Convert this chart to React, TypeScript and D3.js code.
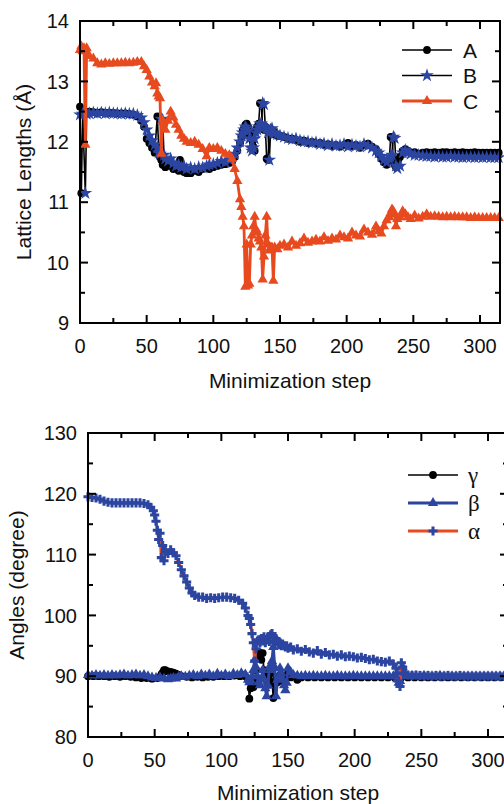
import React from "react";
import * as d3 from "d3";

type Pt = [number, number];

const stepTicks = [0, 50, 100, 150, 200, 250, 300];
const stepMinorTicks = [25, 75, 125, 175, 225, 275];
const latticeTicks = [9, 10, 11, 12, 13, 14];
const latticeMinorTicks = [9.5, 10.5, 11.5, 12.5, 13.5];
const angleTicks = [80, 90, 100, 110, 120, 130];
const angleMinorTicks = [85, 95, 105, 115, 125];

const latticeNames = ["A", "B", "C"];
const angleNames = ["γ", "β", "α"];

const latticeA: Pt[] = [[0,12.58],[1,11.15],[2,12.45],[3,12.48],[5,12.49],[7,12.5],[10,12.49],[13,12.48],[16,12.49],[19,12.48],[22,12.48],[25,12.48],[28,12.47],[31,12.47],[34,12.47],[37,12.46],[40,12.45],[43,12.42],[46,12.35],[48,12.25],[50,12.05],[52,11.98],[54,11.9],[56,11.82],[58,12.42],[59,11.9],[60,11.75],[61,11.7],[62,11.62],[64,11.58],[66,11.65],[68,11.6],[70,11.55],[72,11.62],[74,11.52],[75,11.7],[76,11.55],[78,11.5],[80,11.48],[83,11.48],[86,11.52],[89,11.5],[92,11.55],[95,11.58],[97,11.55],[100,11.58],[103,11.6],[106,11.62],[109,11.63],[112,11.65],[114,11.68],[116,11.75],[118,11.85],[120,11.98],[121,12.08],[122,12.18],[123,12.22],[124,12.28],[125,12.3],[126,12.25],[127,12.1],[128,12.15],[129,12.05],[130,11.92],[131,11.85],[132,12.2],[133,12.25],[134,12.3],[135,12.64],[136,12.62],[137,12.22],[138,12.2],[139,12.25],[140,11.72],[141,11.7],[142,12.18],[143,12.2],[144,12.15],[145,12.18],[146,12.12],[148,12.1],[150,12.1],[153,12.08],[156,12.05],[159,12.05],[162,12.03],[165,12.0],[168,12.02],[171,11.98],[174,12.0],[177,11.97],[180,11.98],[183,11.95],[186,11.96],[189,11.93],[192,11.95],[195,11.92],[198,11.95],[201,11.98],[204,11.93],[207,11.95],[210,11.9],[213,11.95],[216,11.97],[219,11.92],[222,11.88],[224,11.8],[226,11.72],[228,11.66],[230,11.62],[232,11.7],[233,12.08],[234,12.07],[235,11.7],[236,11.62],[237,11.58],[238,11.68],[240,11.75],[242,11.85],[244,11.88],[246,11.85],[248,11.82],[251,11.83],[254,11.8],[257,11.82],[260,11.83],[263,11.82],[266,11.83],[269,11.82],[272,11.83],[275,11.83],[278,11.82],[281,11.83],[284,11.82],[287,11.83],[290,11.82],[293,11.82],[296,11.83],[299,11.82],[302,11.82],[305,11.82],[308,11.82],[311,11.82],[314,11.82]];

const latticeB: Pt[] = [[0,12.45],[2,12.46],[4,11.15],[5,12.46],[7,12.47],[10,12.48],[13,12.47],[16,12.48],[19,12.47],[22,12.48],[25,12.47],[28,12.47],[31,12.46],[34,12.47],[37,12.46],[40,12.46],[43,12.44],[46,12.4],[48,12.32],[50,12.2],[52,12.1],[54,12.02],[56,11.95],[58,11.9],[59,11.82],[60,11.8],[61,12.38],[62,12.36],[63,11.78],[64,11.72],[66,11.68],[68,11.72],[70,11.65],[72,11.6],[74,11.62],[76,11.58],[78,11.6],[80,11.55],[83,11.57],[86,11.55],[89,11.58],[92,11.57],[95,11.6],[97,11.62],[100,11.63],[103,11.65],[106,11.68],[109,11.66],[112,11.7],[114,11.72],[116,11.8],[118,11.9],[120,12.0],[121,12.1],[122,12.15],[123,12.2],[124,12.25],[125,12.22],[126,12.18],[127,12.05],[128,11.9],[129,11.85],[130,11.9],[131,12.05],[132,12.15],[133,12.2],[134,12.25],[135,12.3],[136,12.3],[137,12.64],[138,12.62],[139,12.25],[140,12.22],[141,12.15],[142,11.7],[143,12.2],[144,12.22],[145,12.15],[146,12.14],[148,12.12],[150,12.1],[153,12.08],[156,12.06],[159,12.04],[162,12.05],[165,12.02],[168,12.0],[171,12.0],[174,11.98],[177,11.99],[180,11.96],[183,11.97],[186,11.94],[189,11.96],[192,11.93],[195,11.94],[198,11.96],[201,11.92],[204,11.95],[207,11.93],[210,11.92],[213,11.96],[216,11.93],[219,11.9],[222,11.85],[224,11.82],[226,11.76],[228,11.7],[230,11.66],[232,11.72],[233,11.75],[234,11.78],[235,12.08],[236,12.06],[237,11.6],[238,11.56],[240,11.6],[242,11.82],[244,11.86],[246,11.82],[248,11.8],[251,11.78],[254,11.78],[257,11.77],[260,11.76],[263,11.76],[266,11.75],[269,11.76],[272,11.75],[275,11.75],[278,11.76],[281,11.75],[284,11.75],[287,11.74],[290,11.75],[293,11.75],[296,11.74],[299,11.75],[302,11.74],[305,11.75],[308,11.74],[311,11.74],[314,11.74]];

const latticeC: Pt[] = [[0,13.52],[1,13.58],[2,13.5],[3,13.55],[4,11.95],[5,13.55],[7,13.42],[10,13.38],[13,13.3],[16,13.28],[19,13.3],[22,13.29],[25,13.3],[28,13.3],[31,13.3],[34,13.31],[37,13.3],[40,13.31],[43,13.32],[46,13.32],[48,13.25],[50,13.19],[52,13.08],[54,12.98],[56,12.92],[57,12.97],[58,12.8],[59,12.75],[60,12.72],[61,11.8],[62,12.35],[64,12.2],[66,12.35],[68,12.5],[70,12.4],[72,12.28],[74,12.2],[76,12.1],[78,12.05],[80,12.0],[83,11.98],[86,12.0],[89,11.95],[92,11.88],[95,11.76],[97,11.9],[100,11.88],[103,11.9],[106,11.85],[109,11.8],[112,11.78],[114,11.72],[116,11.55],[118,11.35],[120,11.05],[121,10.92],[122,10.76],[123,10.6],[124,9.6],[125,10.3],[126,9.62],[127,9.65],[128,10.3],[129,10.45],[130,10.6],[131,10.76],[132,10.55],[133,10.5],[134,10.4],[135,10.35],[136,10.25],[137,9.72],[138,10.1],[139,10.45],[140,10.76],[141,10.3],[142,10.2],[143,10.25],[144,10.25],[145,9.7],[146,10.25],[148,10.22],[150,10.28],[153,10.3],[156,10.25],[159,10.35],[162,10.28],[165,10.32],[168,10.4],[171,10.33],[174,10.35],[177,10.38],[180,10.35],[183,10.42],[186,10.36],[189,10.4],[192,10.38],[195,10.45],[198,10.42],[201,10.4],[204,10.5],[207,10.45],[210,10.43],[213,10.55],[216,10.5],[219,10.46],[222,10.6],[224,10.52],[226,10.48],[228,10.6],[230,10.7],[232,10.75],[233,10.82],[234,10.88],[235,10.85],[236,10.8],[237,10.6],[238,10.72],[240,10.75],[242,10.85],[244,10.8],[246,10.75],[248,10.72],[251,10.78],[254,10.73],[257,10.76],[260,10.8],[263,10.76],[266,10.77],[269,10.76],[272,10.75],[275,10.76],[278,10.75],[281,10.76],[284,10.75],[287,10.75],[290,10.75],[293,10.74],[296,10.75],[299,10.74],[302,10.74],[305,10.74],[308,10.74],[311,10.74],[314,10.74]];

const angleGamma: Pt[] = [[0,90],[4,90],[8,90],[12,90],[16,89.9],[20,90],[24,89.9],[28,90],[32,89.9],[36,89.8],[40,89.7],[44,89.7],[48,89.6],[52,89.7],[55,90.3],[56,90.6],[57,91],[58,91],[60,90.8],[62,90.7],[64,90.6],[66,90.4],[68,90.2],[70,90],[74,89.9],[78,89.8],[82,89.9],[86,89.8],[90,89.9],[94,89.9],[98,90],[102,90],[106,90],[110,90.1],[114,90],[116,90.2],[118,90],[120,89.5],[121,86.3],[122,88],[123,88.2],[124,88.2],[125,89.5],[126,91],[127,93.8],[128,94],[129,93],[130,92.7],[131,93.8],[132,91],[133,90.5],[134,89.4],[135,90.5],[136,88.6],[137,90.5],[138,89],[139,86.4],[140,88.6],[141,89.5],[142,89],[143,89.9],[144,90.2],[145,89.5],[146,89.9],[147,89],[148,89.5],[149,90],[150,90.5],[152,89.8],[154,90],[157,89.4],[160,89.8],[165,89.8],[170,89.8],[175,89.8],[180,89.8],[185,89.8],[190,89.8],[195,89.8],[200,89.8],[205,89.8],[210,89.8],[215,89.8],[220,89.8],[225,89.8],[230,89.8],[235,89.8],[240,89.8],[245,89.8],[250,89.8],[255,89.8],[260,89.8],[265,89.8],[270,89.8],[275,89.8],[280,89.8],[285,89.8],[290,89.8],[295,89.8],[300,89.8],[305,89.8],[310,89.8],[315,89.8]];

const angleBeta: Pt[] = [[0,90.2],[3,90.1],[6,90.2],[9,90.1],[12,90.2],[15,90.1],[18,90.2],[21,90.1],[24,90.2],[27,90.3],[30,90.1],[33,90.2],[36,90.3],[39,90.1],[42,90.2],[45,90],[48,89.8],[51,89.7],[54,89.8],[57,89.6],[60,89.5],[62,89.6],[64,89.7],[66,89.6],[68,89.9],[70,90],[73,89.9],[76,90.1],[79,90.2],[82,90],[85,90.3],[88,90.1],[91,90.3],[94,90],[97,90.4],[100,90.1],[103,90.3],[106,90],[109,90.4],[112,90.2],[115,90.5],[118,90.3],[120,89.4],[121,89],[122,89.3],[123,90],[124,91],[125,92.7],[126,91.5],[127,90],[128,89],[129,88.5],[130,89.5],[131,91],[132,89.5],[133,88],[134,86.7],[135,88.5],[136,91.5],[137,91],[138,92.5],[139,94.8],[140,91.5],[141,86.7],[142,89.4],[143,90],[144,91.3],[145,90.5],[146,89.5],[147,88.5],[148,87.7],[149,88.9],[150,91.3],[152,90.7],[154,90.2],[157,90.1],[160,90],[163,90.1],[166,90],[169,90.1],[172,90],[175,90],[178,90.1],[181,90],[184,90],[187,90.1],[190,90],[193,90],[196,90],[199,90.1],[202,90],[205,90],[208,90],[211,90],[214,90],[217,90],[220,90],[223,90],[226,90],[229,90],[231,90],[232,89.5],[233,88.9],[234,89.2],[235,90.5],[236,91.5],[237,90.3],[238,90],[240,90],[243,90.1],[246,90],[249,90],[252,90.1],[255,90],[258,90],[261,90],[264,90.1],[267,90],[270,90],[273,90],[276,90],[279,90],[282,90],[285,90],[288,90],[291,90],[294,90],[297,90],[300,90],[303,90],[306,90],[309,90],[312,90],[315,90]];

const angleAlpha: Pt[] = [[0,119.5],[3,119.4],[6,119.3],[9,119.1],[12,118.8],[15,118.6],[18,118.5],[21,118.5],[24,118.5],[27,118.5],[30,118.5],[33,118.5],[36,118.5],[39,118.5],[42,118.4],[45,118.2],[47,117.8],[49,117.2],[50,116.5],[51,115.5],[52,114],[53,112.5],[54,113.5],[55,109.5],[56,111.5],[57,109],[58,110.5],[60,110.2],[62,110.8],[64,110.3],[66,109.8],[68,108.7],[70,107.5],[72,106.5],[74,105.5],[76,104.5],[78,103.7],[80,103.3],[83,103],[86,103],[89,102.8],[92,102.9],[95,102.8],[98,102.9],[101,103],[104,103],[107,102.9],[110,102.8],[113,102.5],[116,102],[118,101.2],[120,100],[121,99.5],[122,98.5],[123,97],[124,95.5],[125,92.5],[126,94.5],[127,95.8],[128,96],[129,95.5],[130,96.2],[131,95.8],[132,96.5],[133,95.5],[134,96],[135,96.5],[136,95.7],[137,96.8],[138,97],[139,96.5],[140,95.5],[141,96.2],[142,95.8],[143,95.2],[144,95.5],[145,95],[146,95.3],[147,95],[148,94.8],[149,95],[150,94.6],[152,94.8],[154,94.3],[157,94.5],[160,94.1],[163,94.4],[166,94],[169,93.8],[172,94.2],[175,93.6],[178,93.9],[181,93.5],[184,93.6],[187,93.3],[190,93.5],[193,93.2],[196,93.3],[199,93.2],[202,93],[205,93.1],[208,92.9],[211,92.7],[214,92.8],[217,92.5],[220,92.4],[223,92.3],[226,92.5],[229,92],[231,91.3],[232,90.5],[233,89.2],[234,88.3],[235,92.2],[236,91.5],[237,90.5],[238,90.3],[240,90.2],[243,90.1],[246,90.2],[249,90.1],[252,90],[255,90.1],[258,90],[261,90.1],[264,90],[267,90],[270,90.1],[273,90],[276,90],[279,90.1],[282,90],[285,90],[288,90],[291,90],[294,90],[297,90],[300,90],[303,90],[306,90],[309,90],[312,90],[315,90]];

const RED = "#e84a1f";
const BLUE = "#2b45a1";
const SANS = "'Liberation Sans', Arial, Helvetica, sans-serif";
const SERIF = "'Liberation Serif', 'Times New Roman', serif";

interface Series {
  name: string;
  data: Pt[];
  lineColor: string;
  lineWidth: number;
  symbol: d3.SymbolType;
  symbolSize: number;
  markerColor: string;
}

interface PanelProps {
  left: number;
  top: number;
  width: number;
  height: number;
  yDomain: [number, number];
  yTicks: number[];
  yMinor: number[];
  yLabel: string;
  yLabelX: number;
  xLabelY: number;
  series: Series[];
  legendX: number;
  legendY: number;
  legendDy: number;
  legendTextX: number;
  legendFont: string;
  legendFontSize: number;
}

function Panel(p: PanelProps) {
  const x = d3.scaleLinear().domain([0, 315]).range([p.left, p.left + p.width]);
  const y = d3.scaleLinear().domain(p.yDomain).range([p.top + p.height, p.top]);
  const bottom = p.top + p.height;
  const right = p.left + p.width;
  const line = d3.line<Pt>().x((d) => x(d[0])).y((d) => y(d[1]));
  const MAJ = 8;
  const MIN = 5;
  const sym = (s: Series) => d3.symbol().type(s.symbol).size(s.symbolSize)() as string;
  return (
    <g>
      {p.series.map((s) => (
        <g key={s.name}>
          <path d={line(s.data) || ""} fill="none" stroke={s.lineColor} strokeWidth={s.lineWidth} strokeLinejoin="round" />
          {s.data.map((d, i) => (
            <path key={i} transform={`translate(${x(d[0])},${y(d[1])})`} d={sym(s)} fill={s.markerColor} />
          ))}
        </g>
      ))}
      <rect x={p.left} y={p.top} width={p.width} height={p.height} fill="none" stroke="#000" strokeWidth={2} />
      {stepTicks.map((t) => (
        <g key={"xt" + t}>
          <line x1={x(t)} x2={x(t)} y1={bottom} y2={bottom - MAJ} stroke="#000" strokeWidth={2} />
          <line x1={x(t)} x2={x(t)} y1={p.top} y2={p.top + MAJ} stroke="#000" strokeWidth={2} />
          <text x={x(t)} y={bottom + 30} textAnchor="middle" fontFamily={SANS} fontSize={20} fill="#111">{t}</text>
        </g>
      ))}
      {stepMinorTicks.map((t) => (
        <g key={"xm" + t}>
          <line x1={x(t)} x2={x(t)} y1={bottom} y2={bottom - MIN} stroke="#000" strokeWidth={2} />
          <line x1={x(t)} x2={x(t)} y1={p.top} y2={p.top + MIN} stroke="#000" strokeWidth={2} />
        </g>
      ))}
      {p.yTicks.map((t) => (
        <g key={"yt" + t}>
          <line x1={p.left} x2={p.left + MAJ} y1={y(t)} y2={y(t)} stroke="#000" strokeWidth={2} />
          <line x1={right} x2={right - MAJ} y1={y(t)} y2={y(t)} stroke="#000" strokeWidth={2} />
          <text x={p.left - 11} y={y(t)} dy="0.36em" textAnchor="end" fontFamily={SANS} fontSize={20} fill="#111">{t}</text>
        </g>
      ))}
      {p.yMinor.map((t) => (
        <g key={"ym" + t}>
          <line x1={p.left} x2={p.left + MIN} y1={y(t)} y2={y(t)} stroke="#000" strokeWidth={2} />
          <line x1={right} x2={right - MIN} y1={y(t)} y2={y(t)} stroke="#000" strokeWidth={2} />
        </g>
      ))}
      <text x={(p.left + right) / 2} y={p.xLabelY} textAnchor="middle" fontFamily={SANS} fontSize={21} fill="#111">Minimization step</text>
      <text transform={`translate(${p.yLabelX},${(p.top + bottom) / 2}) rotate(-90)`} textAnchor="middle" fontFamily={SANS} fontSize={21} fill="#111">{p.yLabel}</text>
      {p.series.map((s, i) => {
        const ly = p.legendY + i * p.legendDy;
        return (
          <g key={"lg" + s.name}>
            <line x1={p.legendX} x2={p.legendX + 50} y1={ly} y2={ly} stroke={s.lineColor} strokeWidth={s.lineWidth} />
            <path transform={`translate(${p.legendX + 25},${ly})`} d={sym(s)} fill={s.markerColor} />
            <text x={p.legendTextX} y={ly} dy="0.36em" fontFamily={p.legendFont} fontSize={p.legendFontSize} fill="#111">{s.name}</text>
          </g>
        );
      })}
    </g>
  );
}

export default function App() {
  const topSeries: Series[] = [
    { name: latticeNames[0], data: latticeA, lineColor: "#000", lineWidth: 1.6, symbol: d3.symbolCircle, symbolSize: 48, markerColor: "#000" },
    { name: latticeNames[1], data: latticeB, lineColor: "#000", lineWidth: 1.6, symbol: d3.symbolStar, symbolSize: 58, markerColor: BLUE },
    { name: latticeNames[2], data: latticeC, lineColor: RED, lineWidth: 2.8, symbol: d3.symbolTriangle, symbolSize: 46, markerColor: RED },
  ];
  const botSeries: Series[] = [
    { name: angleNames[0], data: angleGamma, lineColor: "#000", lineWidth: 1.6, symbol: d3.symbolCircle, symbolSize: 48, markerColor: "#000" },
    { name: angleNames[1], data: angleBeta, lineColor: BLUE, lineWidth: 3, symbol: d3.symbolTriangle, symbolSize: 46, markerColor: BLUE },
    { name: angleNames[2], data: angleAlpha, lineColor: RED, lineWidth: 3, symbol: d3.symbolCross, symbolSize: 46, markerColor: BLUE },
  ];
  return (
    <svg width={504} height={804} style={{ position: "absolute", left: 0, top: 0, background: "#fff" }}>
      <Panel
        left={80} top={21} width={420} height={302}
        yDomain={[9, 14]} yTicks={latticeTicks} yMinor={latticeMinorTicks}
        yLabel="Lattice Lengths (Å)" yLabelX={31} xLabelY={388}
        series={topSeries}
        legendX={402} legendY={50} legendDy={25.5} legendTextX={463}
        legendFont={SANS} legendFontSize={21}
      />
      <Panel
        left={88} top={433} width={420} height={304}
        yDomain={[80, 130]} yTicks={angleTicks} yMinor={angleMinorTicks}
        yLabel="Angles (degree)" yLabelX={24} xLabelY={800}
        series={botSeries}
        legendX={408} legendY={475} legendDy={28} legendTextX={468}
        legendFont={SERIF} legendFontSize={23}
      />
    </svg>
  );
}
